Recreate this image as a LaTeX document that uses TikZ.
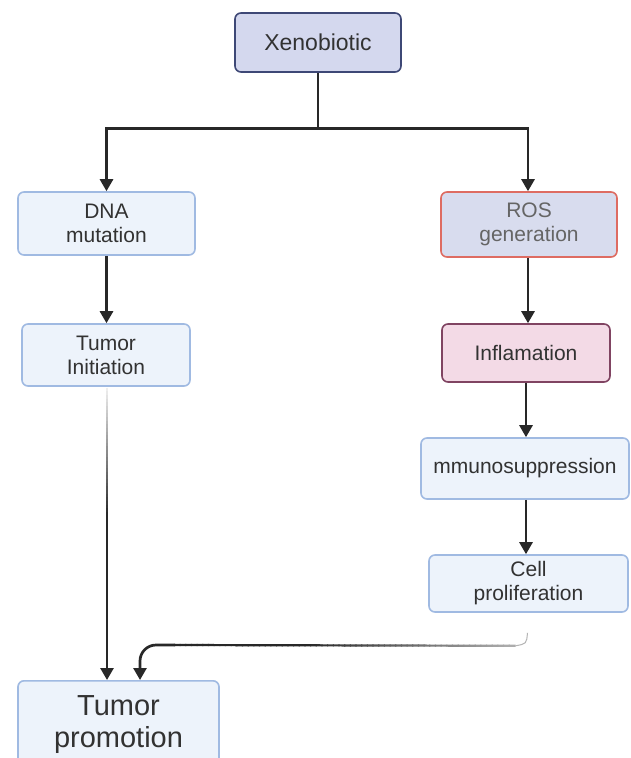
\documentclass[tikz,border=0pt]{standalone}
\usepackage{fontspec}
\setmainfont{Liberation Sans}
\usetikzlibrary{arrows.meta,calc}
\definecolor{txt}{RGB}{50,50,50}
\definecolor{xfill}{RGB}{212,216,238}
\definecolor{xdraw}{RGB}{62,72,118}
\definecolor{bfill}{RGB}{237,243,251}
\definecolor{bdraw}{RGB}{160,186,226}
\definecolor{rfill}{RGB}{216,220,238}
\definecolor{rdraw}{RGB}{222,108,98}
\definecolor{pfill}{RGB}{243,218,230}
\definecolor{pdraw}{RGB}{128,68,98}
\definecolor{conncol}{RGB}{40,40,40}
\begin{document}
\begin{tikzpicture}[x=1pt,y=-1pt,
  box/.style={draw, rounded corners=6pt, line width=1.6pt, align=center, inner sep=0pt,
    text=txt, font=\fontsize{21}{24}\selectfont},
  bluebox/.style={box, fill=bfill, draw=bdraw},
  conn/.style={draw=conncol, line width=2.7pt, -{Triangle[width=13pt,length=12pt]}},
  plain/.style={draw=conncol, line width=2.7pt}]
\useasboundingbox (0,0) rectangle (630,758);
\clip (0,0) rectangle (630,758);
\fill[white] (0,0) rectangle (630,758);

\node[box, fill=xfill, draw=xdraw, minimum width=166pt, minimum height=59pt,
  font=\fontsize{23}{26}\selectfont] (xeno) at (318,42.5) {Xenobiotic};
\node[bluebox, minimum width=177pt, minimum height=63pt] (dna) at (106.5,223.5) {DNA\\mutation};
\node[bluebox, minimum width=168pt, minimum height=62pt] (ti) at (106,355) {Tumor\\Initiation};
\node[box, fill=rfill, draw=rdraw, minimum width=176pt, minimum height=65pt, text=txt!75] (ros) at (529,224.5) {ROS\\generation};
\node[box, fill=pfill, draw=pdraw, minimum width=168pt, minimum height=58pt] (inf) at (526,353) {Inflamation};
\node[bluebox, minimum width=208pt, minimum height=61pt] (imm) at (525,468.5) {mmunosuppression};
\node[bluebox, minimum width=199pt, minimum height=57pt] (cell) at (528.5,583.5) {Cell\\proliferation};
\node[bluebox, anchor=north, minimum width=201pt, minimum height=88pt,
  font=\fontsize{29}{32}\selectfont] (tp) at (118.5,680) {Tumor\\promotion};

% split from Xenobiotic
\coordinate (split) at ($(xeno.south)+(0,56)$);
\draw[plain] (xeno.south) -- (split);
\draw[conn] (split) -| (dna.north);
\draw[conn] (split) -| ($(ros.north)+(-1,0)$);

\draw[conn] (dna.south) -- (dna.south |- ti.north);
\draw[conn] ($(ros.south)+(-1,0)$) -- ($(ros.south |- inf.north)+(-1,0)$);
\draw[conn] (inf.south) -- (inf.south |- imm.north);
\draw[conn] ($(imm.south)+(1,0)$) -- ($(imm.south |- cell.north)+(1,0)$);

% fading connector Tumor Initiation -> Tumor promotion
\coordinate (tistart) at ($(ti.south)+(1,1)$);
\coordinate (tpend) at ($(ti.south |- tp.north)+(1,0)$);
\foreach \i in {0,...,59} {
  \pgfmathsetmacro\a{\i/80}
  \pgfmathsetmacro\b{(\i+1.2)/80}
  \pgfmathsetmacro\c{int(8+92*min(1,\i/34))}
  \draw[line width=2.7pt, color=conncol!\c] ($(tistart)!\a!(tpend)$) -- ($(tistart)!\b!(tpend)$);
}
\draw[conn] ($(tistart)!0.75!(tpend)$) -- (tpend);

% fading connector Cell proliferation -> Tumor promotion
\coordinate (cs) at ($(cell.south)+(-1,20)$);
\coordinate (hr) at ($(cs)+(-12,13)$);
\coordinate (hl) at (175,645);
\coordinate (tpin) at ($(tp.north)+(21.5,0)$);
\draw[line width=1pt, color=conncol!35] (cs) .. controls ($(cs)+(-1,11)$) .. (hr);
\foreach \i in {0,...,59} {
  \pgfmathsetmacro\a{\i/60}
  \pgfmathsetmacro\b{(\i+1.2)/60}
  \pgfmathsetmacro\c{int(38+62*min(1,\i/36))}
  \draw[line width=2.2pt, color=conncol!\c] ($(hr)!\a!(hl)$) -- ($(hr)!\b!(hl)$);
}
\draw[conn, rounded corners=16pt] (hl) -| (tpin);
\end{tikzpicture}
\end{document}
